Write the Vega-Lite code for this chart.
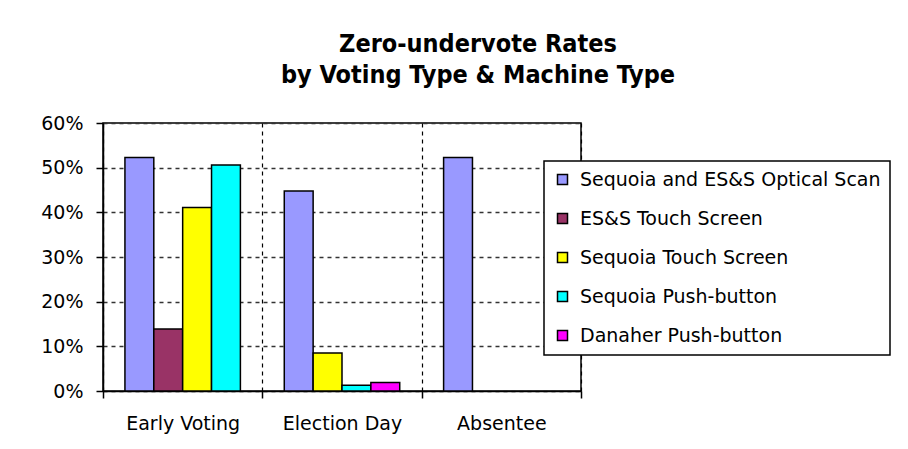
{
  "$schema": "https://vega.github.io/schema/vega-lite/v6.json",
  "autosize": "none",
  "width": 478,
  "height": 268,
  "padding": {"left": 103, "top": 123, "right": 327, "bottom": 58},
  "background": "white",
  "title": {
    "text": ["Zero-undervote Rates", "by Voting Type & Machine Type"],
    "font": "'DejaVu Sans Condensed', 'Liberation Sans', sans-serif",
    "fontWeight": "bold",
    "fontSize": 25,
    "lineHeight": 31,
    "color": "#000",
    "anchor": "middle",
    "frame": "group",
    "dx": 136,
    "offset": 26
  },
  "data": {
    "values": [
      {"voting": "Early Voting", "machine": "Sequoia and ES&S Optical Scan", "rate": 0.523},
      {"voting": "Early Voting", "machine": "ES&S Touch Screen", "rate": 0.139},
      {"voting": "Early Voting", "machine": "Sequoia Touch Screen", "rate": 0.411},
      {"voting": "Early Voting", "machine": "Sequoia Push-button", "rate": 0.506},
      {"voting": "Election Day", "machine": "Sequoia and ES&S Optical Scan", "rate": 0.448},
      {"voting": "Election Day", "machine": "Sequoia Touch Screen", "rate": 0.085},
      {"voting": "Election Day", "machine": "Sequoia Push-button", "rate": 0.013},
      {"voting": "Election Day", "machine": "Danaher Push-button", "rate": 0.019},
      {"voting": "Absentee", "machine": "Sequoia and ES&S Optical Scan", "rate": 0.523}
    ]
  },
  "transform": [
    {"window": [{"op": "row_number", "as": "slot"}], "groupby": ["voting"]}
  ],
  "mark": {"type": "bar", "stroke": "#000", "strokeWidth": 1.5},
  "encoding": {
    "x": {
      "field": "voting",
      "type": "nominal",
      "sort": ["Early Voting", "Election Day", "Absentee"],
      "scale": {"paddingInner": 0, "paddingOuter": 0},
      "axis": {
        "title": null,
        "labelAngle": 0,
        "tickBand": "extent",
        "grid": true,
        "gridDash": [4, 4],
        "gridColor": "#000",
        "gridWidth": 1.2,
        "tickSize": 7,
        "labelPadding": 16
      }
    },
    "xOffset": {
      "field": "slot",
      "type": "ordinal",
      "scale": {"domain": [1, 2, 3, 4], "paddingInner": 0, "paddingOuter": 0.76}
    },
    "y": {
      "field": "rate",
      "type": "quantitative",
      "scale": {"domain": [0, 0.6], "nice": false},
      "axis": {
        "title": null,
        "format": ".0%",
        "values": [0, 0.1, 0.2, 0.3, 0.4, 0.5, 0.6],
        "gridDash": [4, 4],
        "gridColor": "#333",
        "gridWidth": 1.3,
        "tickSize": 7,
        "labelPadding": 13
      }
    },
    "color": {
      "field": "machine",
      "type": "nominal",
      "scale": {
        "domain": ["Sequoia and ES&S Optical Scan", "ES&S Touch Screen", "Sequoia Touch Screen", "Sequoia Push-button", "Danaher Push-button"],
        "range": ["#9999ff", "#993366", "#ffff00", "#00ffff", "#ff00ff"]
      },
      "legend": {
        "title": null,
        "orient": "none",
        "legendX": 441,
        "legendY": 38,
        "direction": "vertical",
        "strokeColor": "#000",
        "fillColor": "#fff",
        "padding": 9,
        "symbolType": "square",
        "symbolSize": 100,
        "symbolStrokeColor": "#000",
        "symbolStrokeWidth": 1.5,
        "labelFont": "DejaVu Sans",
        "labelFontSize": 19,
        "labelColor": "#000",
        "labelLimit": 400,
        "labelOffset": 8,
        "rowPadding": 19
      }
    }
  },
  "config": {
    "view": {"stroke": "#000", "strokeWidth": 1.5},
    "legend": {"strokeWidth": 1.5},
    "axis": {
      "domainColor": "#000",
      "domainWidth": 1.5,
      "tickColor": "#000",
      "tickWidth": 1.5,
      "labelFont": "DejaVu Sans",
      "labelFontSize": 19,
      "labelColor": "#000"
    }
  }
}
